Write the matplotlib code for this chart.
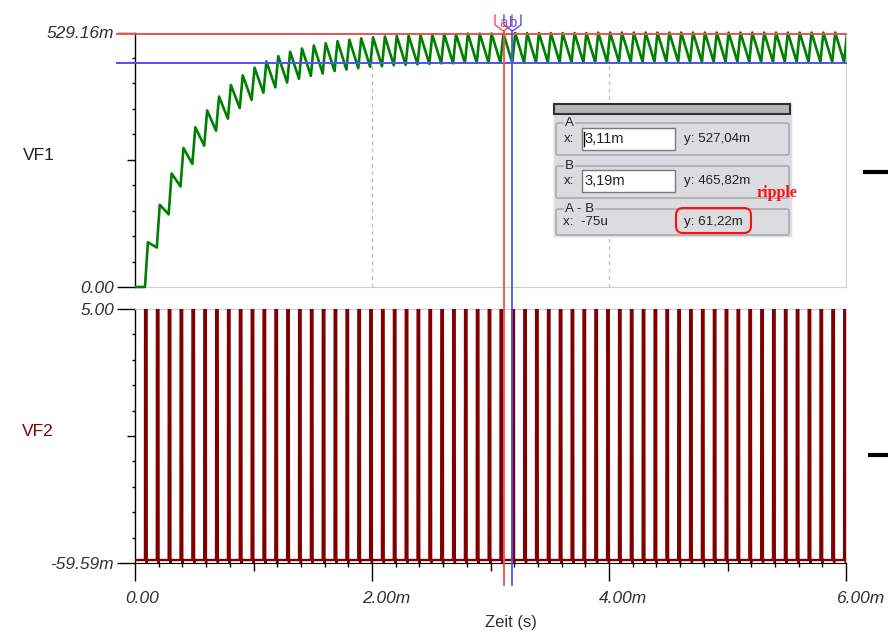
import matplotlib
matplotlib.use('Agg')
import matplotlib.pyplot as plt
import matplotlib.transforms as mtransforms
from matplotlib.patches import Rectangle, FancyBboxPatch

plt.rcParams['font.family'] = ['Liberation Sans', 'DejaVu Sans']

# ---------------- data ----------------
x_range_ms = [0.0, 6.0]
first_pulse_ms = 0.084
pulse_period_ms = 0.1
n_pulses = 60
vf1_rise_ms = 0.025
vf2_width_ms = 0.014

# VF1 peak (after each pulse) and trough (just before next pulse), in mV
vf1_peaks_mV = [93, 171, 236, 289, 332, 367, 396, 420, 440, 456,
                469, 480, 489, 496, 502, 507, 511, 514, 517, 519,
                521, 522, 523, 524, 525, 526, 526, 527, 527, 527,
                527, 528, 528, 528, 528, 528, 528, 528, 529, 529,
                529, 529, 529, 529, 529, 529, 529, 529, 529, 529,
                529, 529, 529, 529, 529, 529, 529, 529, 529, 529]
vf1_troughs_mV = [82, 151, 209, 256, 294, 325, 350, 372, 389, 404,
                  415, 425, 433, 439, 444, 449, 452, 455, 458, 459,
                  461, 462, 463, 464, 465, 465, 466, 466, 466, 466,
                  466, 466, 467, 467, 467, 467, 467, 467, 467, 468,
                  468, 468, 468, 468, 468, 468, 468, 468, 468, 468,
                  468, 468, 468, 468, 468, 468, 468, 468, 468, 468]

vf2_high_V = 5.0
vf2_base_V = 0.0
vf2_undershoot_V = -0.05959

y1_limits = [0.0, 0.52916]
y1_labels = ['0.00', '529.16m']
y2_limits = [-0.05959, 5.00]
y2_labels = ['-59.59m', '5.00']
x_label_ticks_ms = [0, 2, 4, 6]
x_labels = ['0.00', '2.00m', '4.00m', '6.00m']

cursor_a = (3.11, 0.52704)    # ms, V
cursor_b = (3.185, 0.46582)

# ---------------- build traces ----------------
t1 = [0.0, first_pulse_ms]
v1 = [0.0, 0.0]
for k in range(n_pulses):
    tk = first_pulse_ms + k * pulse_period_ms
    t1 += [tk + vf1_rise_ms, tk + pulse_period_ms]
    v1 += [vf1_peaks_mV[k] / 1000.0, vf1_troughs_mV[k] / 1000.0]

t2 = [0.0]
v2 = [vf2_base_V]
for k in range(n_pulses):
    tk = first_pulse_ms + k * pulse_period_ms
    t2 += [tk, tk + 0.001, tk + vf2_width_ms, tk + vf2_width_ms + 0.001, tk + vf2_width_ms + 0.005]
    v2 += [vf2_base_V, vf2_high_V, vf2_high_V, vf2_undershoot_V, vf2_base_V]
t2 += [x_range_ms[1]]
v2 += [vf2_base_V]

# ---------------- figure ----------------
W, H = 888, 637
fig = plt.figure(figsize=(W / 100, H / 100), dpi=100)
fig.patch.set_facecolor('white')

L, R = 135, 846
ax1 = fig.add_axes([L / W, (H - 287) / H, (R - L) / W, 254.5 / H])
ax2 = fig.add_axes([L / W, (H - 563) / H, (R - L) / W, 254 / H])

lab_col = '#303030'
px = 0.72  # points per pixel

for ax, lims in ((ax1, y1_limits), (ax2, y2_limits)):
    ax.set_xlim(*x_range_ms)
    ax.set_ylim(*lims)
    ax.set_facecolor('white')
    ax.spines['left'].set_color('black')
    ax.spines['right'].set_color('#cfcfcf')
    ax.spines['top'].set_color('#cfcfcf')
    ax.spines['left'].set_linewidth(1.0)
    span = lims[1] - lims[0]
    majors = [lims[0], lims[0] + span / 2, lims[1]]
    minors = [lims[0] + span * i / 10 for i in (1, 2, 3, 4, 6, 7, 8, 9)]
    ax.set_yticks(majors)
    ax.set_yticklabels([])
    ax.set_yticks(minors, minor=True)
    ax.tick_params(axis='y', which='both', direction='out', color='black', width=1.0)
    ax.tick_params(axis='y', which='minor', length=3 * px)
    ticks = ax.yaxis.get_major_ticks()
    for tk_, ln in zip(ticks, (18, 8, 18)):
        tk_.tick1line.set_markersize(ln * px)

ax1.spines['top'].set_visible(False)
ax1.spines['bottom'].set_color('#cfcfcf')
ax1.tick_params(axis='x', which='both', bottom=False, labelbottom=False)
ax2.spines['bottom'].set_color('black')

# x ticks on bottom axis
ax2.set_xticks([0, 1, 2, 3, 4, 5, 6])
ax2.set_xticklabels([])
ax2.set_xticks([i * 0.2 for i in range(31) if i % 5 != 0], minor=True)
ax2.tick_params(axis='x', which='both', direction='out', color='black', width=1.0)
ax2.tick_params(axis='x', which='minor', length=4 * px)
for i, tk_ in enumerate(ax2.xaxis.get_major_ticks()):
    tk_.tick1line.set_markersize((18 if i % 2 == 0 else 8) * px)

# grid lines (top panel)
for g in (2, 4):
    ax1.axvline(g, color='#bdbdbd', lw=0.9, ls=(0, (3, 3)), zorder=1)

# traces
line1, = ax1.plot(t1, v1, color='#008000', lw=1.9, zorder=3)
line1.set_clip_box(mtransforms.TransformedBbox(
    mtransforms.Bbox([[0.0, -0.02], [1.0, 1.02]]), ax1.transAxes))
ax2.plot(t2, v2, color='#800000', lw=1.7, zorder=3, solid_joinstyle='miter')

# tick labels
lab_font = dict(fontsize=12.5, style='italic', color=lab_col)
for ax, lims, labs in ((ax1, y1_limits, y1_labels), (ax2, y2_limits, y2_labels)):
    for val, lab in zip(lims, labs):
        ax.annotate(lab, xy=(0, val), xycoords=('axes fraction', 'data'),
                    xytext=(-21, -6), textcoords='offset pixels',
                    ha='right', va='baseline', annotation_clip=False, **lab_font)
for val, lab in zip(x_label_ticks_ms, x_labels):
    ax2.annotate(lab, xy=(val, 0), xycoords=('data', 'axes fraction'),
                 xytext=(-10, -40), textcoords='offset pixels',
                 ha='left', va='baseline', annotation_clip=False, **lab_font)

# ---------------- overlay (pixel coordinates) ----------------
ov = fig.add_axes([0, 0, 1, 1], zorder=10)
ov.set_xlim(0, W)
ov.set_ylim(H, 0)
ov.axis('off')

ov.text(485, 627, 'Zeit (s)', fontsize=12, color=lab_col, ha='left', va='baseline')
ov.text(23, 155, 'VF1', fontsize=12.5, color='#202020', ha='left', va='center')
ov.text(22, 432, 'VF2', fontsize=12.5, color='#800000', ha='left', va='center')

ov.plot([863, 888], [172, 172], color='black', lw=3, solid_capstyle='butt')
ov.plot([868, 888], [455, 455], color='black', lw=3, solid_capstyle='butt')

# cursors
red = '#f05050'
blue = '#5050ff'
bt1 = mtransforms.blended_transform_factory(ax1.transData, ov.transData)
for (cx, cy), col, ch in ((cursor_a, red, 'a'), (cursor_b, blue, 'b')):
    ov.plot([cx, cx], [31, 585], color=col, lw=1.3, transform=bt1, zorder=5)
    ax1.plot([-18 / (R - L) * 6, x_range_ms[1]], [cy, cy], color=col, lw=1.4,
             clip_on=False, zorder=4)
    xp = ax1.transData.transform((cx, 0))[0]
    ov.plot([xp - 8.5, xp - 8.5, xp, xp + 8.5, xp + 8.5], [15, 25, 31, 25, 15],
            color=col, lw=1.0, zorder=6)
    ov.text(xp, 23, ch, color=col, fontsize=11, ha='center', va='center', zorder=6)

# dialog box
bg = '#dcdce0'
txt = '#222222'
ov.add_patch(Rectangle((553, 103), 239, 134, facecolor=bg, edgecolor='#f4f4f4', lw=1.0, zorder=7))
ov.add_patch(Rectangle((554, 104), 236, 10, facecolor='#b6b6b6', edgecolor='#303030', lw=1.5, zorder=8))
for (y0, h, lab) in ((123, 32, 'A'), (166, 32, 'B'), (209, 26, 'A - B')):
    ov.add_patch(FancyBboxPatch((556, y0), 233, h, boxstyle='round,pad=0,rounding_size=2',
                                facecolor=bg, edgecolor='#a2a2a6', lw=1.0, zorder=8))
    ov.text(565, y0, lab, fontsize=9.6, color=txt, ha='left', va='center', zorder=9,
            bbox=dict(facecolor=bg, edgecolor='none', pad=0.5))
for (y0, xv, yv) in ((128, '3,11m', 'y: 527,04m'), (170, '3,19m', 'y: 465,82m')):
    ov.add_patch(Rectangle((582, y0), 93, 22, facecolor='white', edgecolor='#7a7a7a', lw=1.0, zorder=9))
    ov.text(564, y0 + 11, 'x:', fontsize=9.6, color=txt, ha='left', va='center', zorder=10)
    ov.text(584, y0 + 11, xv, fontsize=10.5, color=txt, ha='left', va='center', zorder=10)
    ov.text(684, y0 + 11, yv, fontsize=9.6, color=txt, ha='left', va='center', zorder=10)
ov.plot([584, 584], [132, 146], color='black', lw=1.0, zorder=11)
ov.text(563, 222, 'x:  -75u', fontsize=9.6, color=txt, ha='left', va='center', zorder=10)
ov.text(684, 222, 'y: 61,22m', fontsize=9.6, color=txt, ha='left', va='center', zorder=10)
ov.add_patch(FancyBboxPatch((676, 208), 75, 25, boxstyle='round,pad=0,rounding_size=7',
                            facecolor='none', edgecolor='#ff1010', lw=1.5, zorder=11))
ov.text(757, 193, 'ripple', fontsize=11.5, color='#ff1010', fontweight='bold',
        family=['Liberation Serif', 'DejaVu Serif'], ha='left', va='center', zorder=11)

fig.savefig('out.png', dpi=100)
